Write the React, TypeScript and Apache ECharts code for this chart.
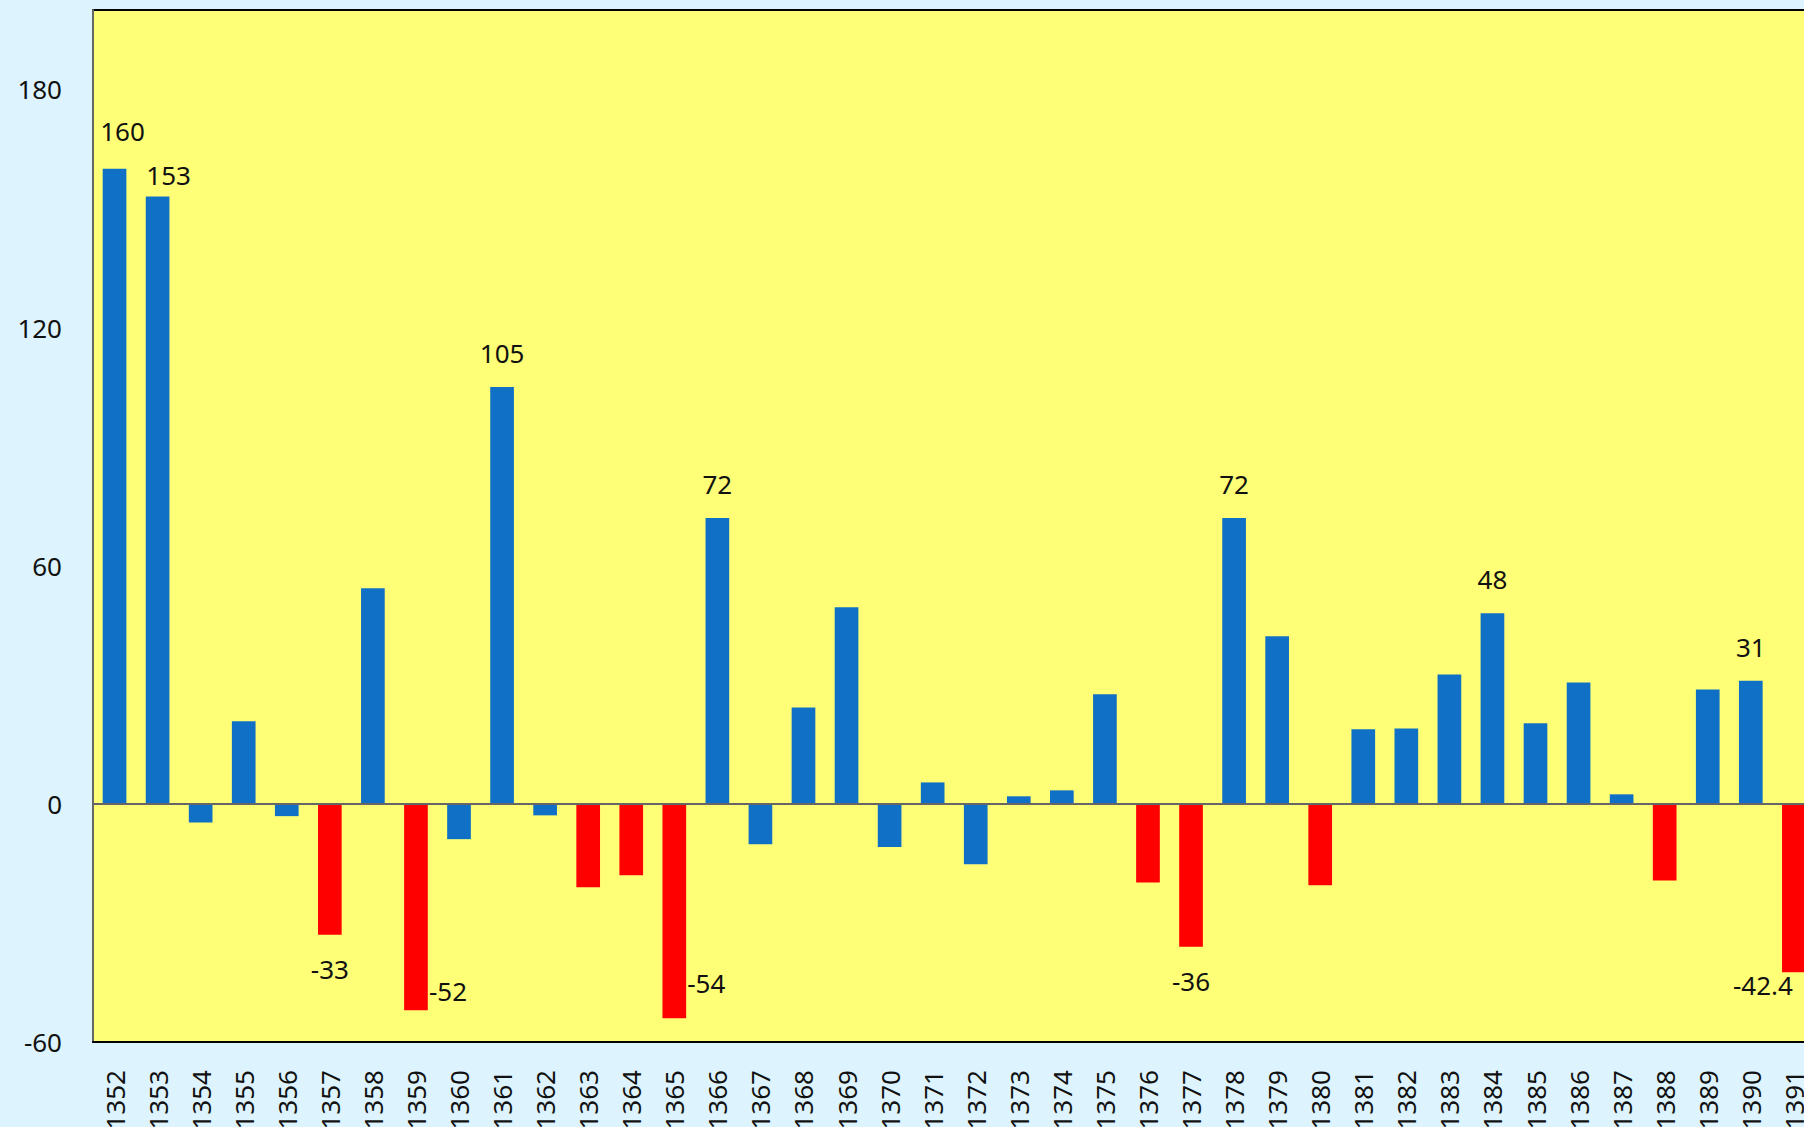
import React, { useEffect, useRef } from "react";
import * as echarts from "echarts";

const years: string[] = [
  "1352", "1353", "1354", "1355", "1356", "1357", "1358", "1359", "1360", "1361",
  "1362", "1363", "1364", "1365", "1366", "1367", "1368", "1369", "1370", "1371",
  "1372", "1373", "1374", "1375", "1376", "1377", "1378", "1379", "1380", "1381",
  "1382", "1383", "1384", "1385", "1386", "1387", "1388", "1389", "1390", "1391",
];

const values: number[] = [
  160, 153, -4.7, 20.8, -3.1, -33, 54.3, -52, -8.9, 105,
  -2.9, -21, -18, -54, 72, -10.2, 24.3, 49.5, -10.9, 5.4,
  -15.2, 1.9, 3.4, 27.6, -19.8, -36, 72, 42.2, -20.5, 18.8,
  19.0, 32.6, 48, 20.3, 30.6, 2.4, -19.3, 28.8, 31, -42.4,
];

const yTicks: number[] = [-60, 0, 60, 120, 180];

// years whose value is printed next to the bar
const labelledYears: string[] = [
  "1352", "1353", "1357", "1359", "1361", "1365", "1366", "1377", "1378", "1384", "1390", "1391",
];

// below this value a bar is drawn red
const DROUGHT_THRESHOLD = -17;

// label nudges (style only)
const labelOffsets: Record<string, [number, number]> = {
  "1352": [8, -4],
  "1353": [11, 12],
  "1359": [32, -53],
  "1365": [32, -69],
  "1391": [-31, -21],
};

const BG = "#ddf4fe";
const PLOT_BG = "#ffff77";
const BLUE = "#1070c5";
const RED = "#ff0000";
const FONT = "Noto Sans";

export default function App() {
  const ref = useRef<HTMLDivElement>(null);

  useEffect(() => {
    if (!ref.current) return;
    const chart = echarts.init(ref.current, undefined, { renderer: "svg" });

    const data = values.map((v, i) => {
      const y = years[i];
      const item: any = {
        value: v,
        itemStyle: { color: v < DROUGHT_THRESHOLD ? RED : BLUE },
      };
      if (labelledYears.includes(y)) {
        item.label = {
          show: true,
          position: v >= 0 ? "top" : "bottom",
          offset: labelOffsets[y] || [0, 0],
        };
      }
      return item;
    });

    chart.setOption({
      animation: false,
      backgroundColor: BG,
      textStyle: { fontFamily: FONT },
      grid: {
        show: true,
        left: 93,
        top: 10,
        width: 1722.4,
        height: 1032,
        backgroundColor: PLOT_BG,
        borderColor: "#000",
        borderWidth: 2,
        containLabel: false,
      },
      xAxis: {
        type: "category",
        data: years,
        position: "bottom",
        axisLine: { show: true, onZero: false, lineStyle: { color: "#000", width: 2 } },
        axisTick: { show: false },
        axisLabel: {
          rotate: 90,
          margin: 28,
          interval: 0,
          fontSize: 26,
          fontFamily: FONT,
          color: "#111",
        },
        splitLine: { show: false },
      },
      yAxis: {
        type: "value",
        min: yTicks[0],
        max: 200,
        interval: 60,
        axisLine: { show: true, lineStyle: { color: "#666", width: 2 } },
        axisTick: { show: false },
        splitLine: { show: false },
        axisLabel: {
          margin: 31,
          fontSize: 26,
          fontFamily: FONT,
          color: "#111",
          showMaxLabel: false,
          formatter: (v: number) => (yTicks.includes(v) ? String(v) : ""),
        },
      },
      series: [
        {
          type: "bar",
          data,
          barWidth: "55%",
          label: {
            show: false,
            distance: 19,
            fontSize: 26,
            lineHeight: 30,
            fontFamily: FONT,
            color: "#111",
            formatter: (p: any) => String(p.value),
          },
          markLine: {
            silent: true,
            symbol: "none",
            label: { show: false },
            lineStyle: { color: "#666", width: 2, type: "solid" },
            data: [{ yAxis: 0 }],
          },
        },
      ],
    });

    return () => chart.dispose();
  }, []);

  return (
    <div
      style={{
        position: "fixed",
        left: 0,
        top: 0,
        width: 1804,
        height: 1127,
        overflow: "hidden",
        background: BG,
      }}
    >
      <div ref={ref} style={{ width: 1900, height: 1250 }} />
    </div>
  );
}
